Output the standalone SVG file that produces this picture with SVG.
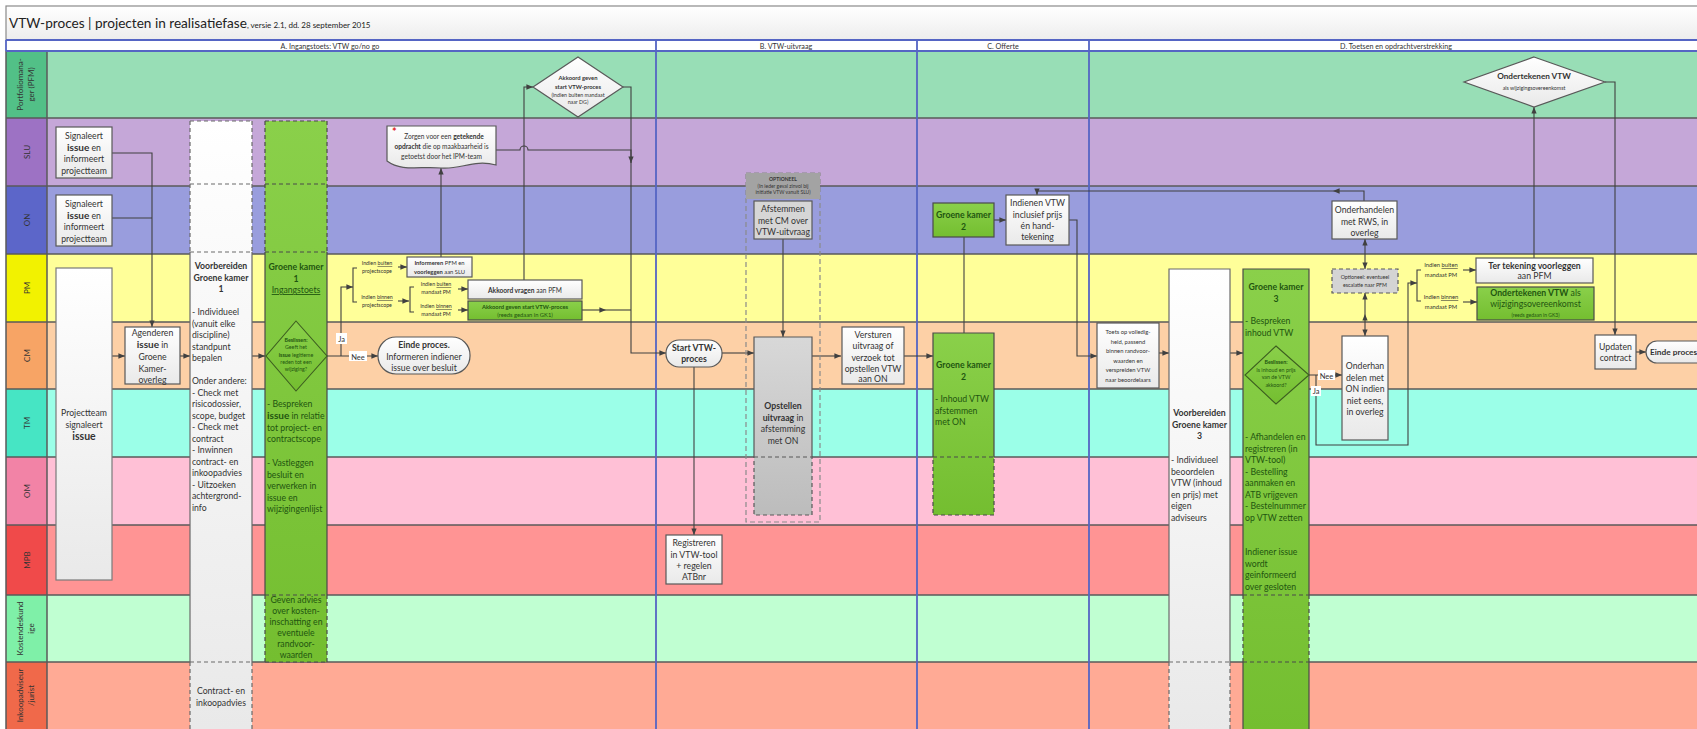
<svg xmlns="http://www.w3.org/2000/svg" width="1697" height="729" viewBox="0 0 1697 729">
<defs>
<linearGradient id="gw" x1="0" y1="0" x2="0" y2="1"><stop offset="0" stop-color="#ffffff"/><stop offset="1" stop-color="#e9e9e9"/></linearGradient>
<linearGradient id="gt" x1="0" y1="0" x2="0" y2="1"><stop offset="0" stop-color="#ffffff"/><stop offset="1" stop-color="#ededed"/></linearGradient>
<linearGradient id="gg" x1="0" y1="0" x2="0" y2="1"><stop offset="0" stop-color="#8ad04a"/><stop offset="1" stop-color="#74be30"/></linearGradient>
<linearGradient id="gr" x1="0" y1="0" x2="0" y2="1"><stop offset="0" stop-color="#d8d8d8"/><stop offset="1" stop-color="#bcbcbc"/></linearGradient>
<marker id="ar" viewBox="0 0 10 10" refX="10" refY="5" markerWidth="6" markerHeight="6" orient="auto-start-reverse"><path d="M0,1 L10,5 L0,9 z" fill="#404040"/></marker>
</defs>
<style>
text{font-family:Lato,"Liberation Sans",sans-serif;fill:#333}
.c{text-anchor:middle;font-size:8.7px}
.l{font-size:8.7px}
.s7{font-size:6.6px}
.s6{font-size:5.8px}
.s5{font-size:5.3px}
.b{font-weight:bold}
.i{font-weight:bold;font-size:10px}
.g{fill:#1f5510}
.lbl{text-anchor:middle;font-size:8px;fill:#333}
.ln{fill:none;stroke:#404040;stroke-width:1.1}
.ar{marker-end:url(#ar)}
.box{fill:url(#gw);stroke:#595959;stroke-width:1.2}
.gbox{fill:url(#gg);stroke:#4a4a4a;stroke-width:1.2}
.sol{fill:none;stroke:#6a6a6a;stroke-width:1.2}
.dsh{fill:none;stroke:#6a6a6a;stroke-width:1.2;stroke-dasharray:4,3}
.lane{stroke:none}
.sep{stroke:#5a5a5a;stroke-width:1.5}
.ph{stroke:#5565c4;stroke-width:1.8;fill:none}
.tag{fill:#ffffff}
</style>

<g id="background">
<rect x="0" y="0" width="1697" height="729" fill="#ffffff"/>
<rect x="6" y="6" width="1697" height="34" fill="url(#gt)" stroke="#8a8a8a" stroke-width="1.2"/>
<text x="9" y="28" style="font-size:13.6px;fill:#222">VTW-proces | projecten in realisatiefase<tspan style="font-size:8px">, versie 2.1, dd. 28 september 2015</tspan></text>
</g>

<g id="lanes">
<rect class="lane" x="47" y="51" width="1650" height="67" fill="#98deb6"/>
<rect class="lane" x="47" y="118" width="1650" height="68" fill="#c5a7d8"/>
<rect class="lane" x="47" y="186" width="1650" height="68" fill="#999ddd"/>
<rect class="lane" x="47" y="254" width="1650" height="68" fill="#ffff99"/>
<rect class="lane" x="47" y="322" width="1650" height="67" fill="#fdd0a6"/>
<rect class="lane" x="47" y="389" width="1650" height="68" fill="#9bffe8"/>
<rect class="lane" x="47" y="457" width="1650" height="68" fill="#ffc0d6"/>
<rect class="lane" x="47" y="525" width="1650" height="70" fill="#ff9494"/>
<rect class="lane" x="47" y="595" width="1650" height="67" fill="#c0ffd2"/>
<rect class="lane" x="47" y="662" width="1650" height="67" fill="#ffaa95"/>
<rect class="lane" x="6" y="51" width="41" height="67" fill="#52c087"/>
<rect class="lane" x="6" y="118" width="41" height="68" fill="#9d72c4"/>
<rect class="lane" x="6" y="186" width="41" height="68" fill="#5c66c9"/>
<rect class="lane" x="6" y="254" width="41" height="68" fill="#f2f200"/>
<rect class="lane" x="6" y="322" width="41" height="67" fill="#f7a465"/>
<rect class="lane" x="6" y="389" width="41" height="68" fill="#46e5c4"/>
<rect class="lane" x="6" y="457" width="41" height="68" fill="#f283a6"/>
<rect class="lane" x="6" y="525" width="41" height="70" fill="#f04a4a"/>
<rect class="lane" x="6" y="595" width="41" height="67" fill="#7ff0a8"/>
<rect class="lane" x="6" y="662" width="41" height="67" fill="#f0694a"/>
<g class="sep">
<line x1="6" y1="118" x2="1697" y2="118"/>
<line x1="6" y1="186" x2="1697" y2="186"/>
<line x1="6" y1="254" x2="1697" y2="254"/>
<line x1="6" y1="322" x2="1697" y2="322"/>
<line x1="6" y1="389" x2="1697" y2="389"/>
<line x1="6" y1="457" x2="1697" y2="457"/>
<line x1="6" y1="525" x2="1697" y2="525"/>
<line x1="6" y1="595" x2="1697" y2="595"/>
<line x1="6" y1="662" x2="1697" y2="662"/>
<line x1="47" y1="51" x2="47" y2="729"/>
<line x1="6" y1="51" x2="6" y2="729"/>
</g>
<text class="lbl" transform="translate(23,84.5) rotate(-90)">Portfolioma­na-</text>
<text class="lbl" transform="translate(34,84.5) rotate(-90)">ger (PFM)</text>
<text class="lbl" transform="translate(29.5,152) rotate(-90)">SLU</text>
<text class="lbl" transform="translate(29.5,220) rotate(-90)">ON</text>
<text class="lbl" transform="translate(29.5,288) rotate(-90)">PM</text>
<text class="lbl" transform="translate(29.5,355.5) rotate(-90)">CM</text>
<text class="lbl" transform="translate(29.5,423) rotate(-90)">TM</text>
<text class="lbl" transform="translate(29.5,491) rotate(-90)">OM</text>
<text class="lbl" transform="translate(29.5,560) rotate(-90)">MPB</text>
<text class="lbl" transform="translate(23,628.5) rotate(-90)">Kostendeskund</text>
<text class="lbl" transform="translate(34,628.5) rotate(-90)">ige</text>
<text class="lbl" transform="translate(23,695.5) rotate(-90)">Inkoopadviseur</text>
<text class="lbl" transform="translate(34,695.5) rotate(-90)">/jurist</text>
</g>

<g id="phases">
<rect x="6" y="40" width="1697" height="11" fill="#ffffff"/>
<path class="ph" d="M6,40 H1697 M6,51 H1697 M6,40 V51 M656,40 V729 M917,40 V729 M1089,40 V729"/>
<text x="330" y="48.5" style="font-size:7.2px;text-anchor:middle">A. Ingangstoets: VTW go/no go</text>
<text x="786" y="48.5" style="font-size:7.2px;text-anchor:middle">B. VTW-uitvraag</text>
<text x="1003" y="48.5" style="font-size:7.2px;text-anchor:middle">C. Offerte</text>
<text x="1396" y="48.5" style="font-size:7.2px;text-anchor:middle">D. Toetsen en opdrachtverstrekking</text>
</g>

<g id="connectors">
<path class="ln ar" d="M112,153 H152 V327"/>
<path class="ln" d="M112,218 H152"/>
<path class="ln ar" d="M112,356 H125"/>
<path class="ln ar" d="M180,356 H190"/>
<path class="ln ar" d="M247,356 H265"/>
<path class="ln ar" d="M327,356 H378"/>
<path class="ln ar" d="M341,356 V287 H353"/>
<path class="ln" d="M357,268 H353 V302 H357"/>
<path class="ln ar" d="M398,267 H407"/>
<path class="ln ar" d="M398,301 H409"/>
<path class="ln" d="M414,287 H410 V312 H414"/>
<path class="ln ar" d="M458,289 H468"/>
<path class="ln ar" d="M458,310 H468"/>
<path class="ln ar" d="M441,257 V168"/>
<path class="ln ar" d="M524,280 V87 H533"/>
<path class="ln ar" d="M623,87 H631 V353 H666"/>
<path class="ln ar" d="M496,150 H520 A4,4 0 0 1 528,150 H631 V163"/>
<path class="ln ar" d="M582,310 H606"/>
<path class="ln" d="M606,310 H631"/>
<path class="ln ar" d="M722,353 H754"/>
<path class="ln ar" d="M783,239 V337"/>
<path class="ln ar" d="M694,367 V535"/>
<path class="ln ar" d="M812,356 H841"/>
<path class="ln ar" d="M904,356 H933"/>
<path class="ln" d="M964,237 V333"/>
<path class="ln ar" d="M994,220 H1006"/>
<path class="ln ar" d="M1069,220 H1077 V356 H1097"/>
<path class="ln ar" d="M1159,353 H1169"/>
<path class="ln ar" d="M1230,353 H1243"/>
<path class="ln ar" d="M1309,375 H1342"/>
<path class="ln ar" d="M1316,375 V445 H1408 V283 H1417"/>
<path class="ln" d="M1421,270 H1417 V301 H1421"/>
<path class="ln ar" d="M1463,270 H1476"/>
<path class="ln ar" d="M1463,302 H1477"/>
<path class="ln ar" d="M1534,258 V107"/>
<path class="ln ar" d="M1605,82 H1615 V335"/>
<path class="ln ar" d="M1636,352 H1646"/>
<path class="ln ar" d="M1365,314 V336" style="marker-start:url(#ar)"/>
<path class="ln" d="M1365,293 V314" style="marker-start:url(#ar)"/>
<path class="ln ar" d="M1365,254 V269"/>
<path class="ln" d="M1365,254 V239" style="marker-end:url(#ar)"/>
<path class="ln ar" d="M1364,201 V191 H1333"/>
<path class="ln ar" d="M1333,191 H1037 V195"/>
<rect class="tag" x="336" y="333" width="11" height="11"/>
<text x="341.5" y="342" style="font-size:7.5px;text-anchor:middle">Ja</text>
<rect class="tag" x="349" y="351" width="18" height="10"/>
<text x="358" y="359.5" style="font-size:7.5px;text-anchor:middle">Nee</text>
<rect class="tag" x="1318" y="370" width="17" height="10"/>
<text x="1326.5" y="378.5" style="font-size:7.5px;text-anchor:middle">Nee</text>
<rect class="tag" x="1311" y="386" width="10" height="10"/>
<text x="1316" y="394" style="font-size:7.5px;text-anchor:middle">Ja</text>
</g>

<g id="n-signaleert-slu">
<rect class="box" x="56" y="127" width="56" height="51"/>
<text class="c" x="84" y="139">Signaleert</text>
<text class="c" x="84" y="150.5"><tspan class="i">issue</tspan> en</text>
<text class="c" x="84" y="162">informeert</text>
<text class="c" x="84" y="173.5">projectteam</text>
</g>
<g id="n-signaleert-on">
<rect class="box" x="56" y="195" width="56" height="51"/>
<text class="c" x="84" y="207">Signaleert</text>
<text class="c" x="84" y="218.5"><tspan class="i">issue</tspan> en</text>
<text class="c" x="84" y="230">informeert</text>
<text class="c" x="84" y="241.5">projectteam</text>
</g>
<g id="n-projectteam">
<rect class="box" x="56" y="268" width="56" height="312" style="stroke:#7a7a7a"/>
<text class="c" x="84" y="416">Projectteam</text>
<text class="c" x="84" y="427.5">signaleert</text>
<text class="c b" x="84" y="440" style="font-size:10.5px">issue</text>
</g>
<g id="n-agenderen">
<rect class="box" x="125" y="327" width="55" height="57"/>
<text class="c" x="152.5" y="335.5">Agenderen</text>
<text class="c" x="152.5" y="348"><tspan class="i">issue</tspan> in</text>
<text class="c" x="152.5" y="360">Groene</text>
<text class="c" x="152.5" y="372">Kamer-</text>
<text class="c" x="152.5" y="383">overleg</text>
</g>
<g id="n-voorbereiden-gk1">
<rect x="190" y="121" width="62" height="608" fill="url(#gw)"/>
<path class="sol" d="M190,252 V662 M252,252 V662"/>
<path class="dsh" d="M190,121 H252 M190,121 V252 M252,121 V252 M190,184 H252 M190,252 H252 M190,662 H252 M190,662 V729 M252,662 V729"/>
<text class="c b" x="221" y="269">Voorbereiden</text>
<text class="c b" x="221" y="280.5">Groene kamer</text>
<text class="c b" x="221" y="292">1</text>
<text class="l" x="192" y="315">- Individueel</text>
<text class="l" x="192" y="326.5">(vanuit elke</text>
<text class="l" x="192" y="338">discipline)</text>
<text class="l" x="192" y="349.5">standpunt</text>
<text class="l" x="192" y="361">bepalen</text>
<text class="l" x="192" y="384">Onder andere:</text>
<text class="l" x="192" y="395.5">- Check met</text>
<text class="l" x="192" y="407">risicodossier,</text>
<text class="l" x="192" y="418.5">scope, budget</text>
<text class="l" x="192" y="430">- Check met</text>
<text class="l" x="192" y="441.5">contract</text>
<text class="l" x="192" y="453">- Inwinnen</text>
<text class="l" x="192" y="464.5">contract- en</text>
<text class="l" x="192" y="476">inkoopadvies</text>
<text class="l" x="192" y="487.5">- Uitzoeken</text>
<text class="l" x="192" y="499">achtergrond-</text>
<text class="l" x="192" y="510.5">info</text>
<text class="c" x="221" y="694">Contract- en</text>
<text class="c" x="221" y="705.5">inkoopadvies</text>
</g>
<g id="n-groene-kamer-1">
<rect x="265" y="121" width="62" height="541" fill="url(#gg)"/>
<path class="sol" d="M265,252 V595 M327,252 V595" style="stroke:#4a4a4a"/>
<path class="dsh" d="M265,121 H327 M265,121 V252 M327,121 V252 M265,184 H327 M265,252 H327 M265,595 H327 M265,595 V662 M327,595 V662 M265,662 H327" style="stroke:#4a4a4a"/>
<text class="c b g" x="296" y="270">Groene kamer</text>
<text class="c b g" x="296" y="281.5">1</text>
<text class="c g" x="296" y="293" style="text-decoration:underline">Ingangstoets</text>
<polygon points="296,321 327,356 296,391 266,356" fill="url(#gg)" stroke="#3d5e20" stroke-width="1.1"/>
<text class="c b g s5" x="296" y="342">Beslissen:</text>
<text class="c g s5" x="296" y="349">Geeft het</text>
<text class="c g s5" x="296" y="356.5"><tspan class="b">issue</tspan> legitieme</text>
<text class="c g s5" x="296" y="363.5">reden tot een</text>
<text class="c g s5" x="296" y="370.5">wijziging?</text>
<text class="l g" x="267" y="407">- Bespreken</text>
<text class="l g" x="267" y="419"><tspan class="i">issue</tspan> in relatie</text>
<text class="l g" x="267" y="430.5">tot project- en</text>
<text class="l g" x="267" y="442">contractscope</text>
<text class="l g" x="267" y="466">- Vastleggen</text>
<text class="l g" x="267" y="477.5">besluit en</text>
<text class="l g" x="267" y="489">verwerken in</text>
<text class="l g" x="267" y="500.5">issue en</text>
<text class="l g" x="267" y="512">wijzigingenlijst</text>
<text class="c g" x="296" y="603">Geven advies</text>
<text class="c g" x="296" y="614">over kosten-</text>
<text class="c g" x="296" y="625">inschatting en</text>
<text class="c g" x="296" y="636">eventuele</text>
<text class="c g" x="296" y="647">randvoor-</text>
<text class="c g" x="296" y="658">waarden</text>
</g>
<g id="n-zorgen">
<path d="M387,126 H496 V165 C474,159 460,170 441,168 C420,166 402,172 387,161 Z" fill="url(#gw)" stroke="#595959" stroke-width="1.2"/>
<text x="392" y="136" style="font-size:11px;fill:#e02020;font-weight:bold">*</text>
<text class="c s7" x="444" y="139">Zorgen voor een <tspan class="b">getekende</tspan></text>
<text class="c s7" x="441.5" y="149"><tspan class="b">opdracht</tspan> die op maakbaarheid is</text>
<text class="c s7" x="441.5" y="158.5">getoetst door het IPM-team</text>
</g>
<g id="n-akkoord-geven-pfm">
<polygon points="578,57 623,87 578,117 533,87" fill="url(#gw)" stroke="#595959" stroke-width="1.2"/>
<text class="c b s6" x="578" y="80">Akkoord geven</text>
<text class="c b s6" x="578" y="88.5">start VTW-proces</text>
<text class="c s5" x="578" y="96.5">(indien buiten mandaat</text>
<text class="c s5" x="578" y="104">naar DG)</text>
</g>
<g id="n-labels-scope">
<text class="c s5" x="377" y="265">Indien <tspan style="text-decoration:underline">buiten</tspan></text>
<text class="c s5" x="377" y="272.5">projectscope</text>
<text class="c s5" x="377" y="299">Indien <tspan style="text-decoration:underline">binnen</tspan></text>
<text class="c s5" x="377" y="306.5">projectscope</text>
<text class="c s5" x="436" y="286">Indien <tspan style="text-decoration:underline">buiten</tspan></text>
<text class="c s5" x="436" y="293.5">mandaat PM</text>
<text class="c s5" x="436" y="308">Indien <tspan style="text-decoration:underline">binnen</tspan></text>
<text class="c s5" x="436" y="315.5">mandaat PM</text>
</g>
<g id="n-informeren">
<rect class="box" x="407" y="257" width="65" height="20"/>
<text class="c s6" x="439.5" y="265"><tspan class="b">Informeren</tspan> PFM en</text>
<text class="c s6" x="439.5" y="273.5"><tspan class="b">voorleggen</tspan> aan SLU</text>
</g>
<g id="n-akkoord-vragen">
<rect class="box" x="468" y="280" width="114" height="19"/>
<text class="c s7" x="525" y="292.5"><tspan class="b">Akkoord vragen</tspan> aan PFM</text>
</g>
<g id="n-akkoord-gk1">
<rect class="gbox" x="468" y="301" width="114" height="19"/>
<text class="c b g s6" x="525" y="308.5">Akkoord geven start VTW-proces</text>
<text class="c g s6" x="525" y="316.5">(reeds gedaan in GK1)</text>
</g>
<g id="n-einde-1">
<rect x="378" y="337" width="92" height="37" rx="18" fill="url(#gw)" stroke="#595959" stroke-width="1.2"/>
<text class="c b" x="424" y="348">Einde proces.</text>
<text class="c" x="424" y="359.5">Informeren indiener</text>
<text class="c" x="424" y="370.5">issue over besluit</text>
</g>
<g id="n-start-vtw">
<rect x="666" y="340" width="56" height="27" rx="13" fill="url(#gw)" stroke="#595959" stroke-width="1.2"/>
<text class="c b" x="694" y="351">Start VTW-</text>
<text class="c b" x="694" y="362">proces</text>
</g>
<g id="n-optioneel">
<rect x="746" y="173" width="74" height="349" fill="none" stroke="#8a8a8a" stroke-width="1.2" stroke-dasharray="5,3"/>
<rect x="746" y="173" width="74" height="26" fill="#a3a3a3"/>
<text class="c b" x="783" y="181" style="font-size:5px">OPTIONEEL</text>
<text class="c" x="783" y="187.5" style="font-size:5px">(In ieder geval zinvol bij</text>
<text class="c" x="783" y="194" style="font-size:5px">initiatie VTW vanuit SLU)</text>
</g>
<g id="n-afstemmen">
<rect x="754" y="201" width="58" height="38" fill="#d6d6d6" stroke="#595959" stroke-width="1.2"/>
<text class="c" x="783" y="212">Afstemmen</text>
<text class="c" x="783" y="223.5">met CM over</text>
<text class="c" x="783" y="235">VTW-uitvraag</text>
</g>
<g id="n-opstellen">
<rect x="754" y="337" width="58" height="178" fill="url(#gr)"/>
<path class="sol" d="M754,457 V337 H812 V457" style="stroke:#595959"/>
<path class="dsh" d="M754,457 H812 V515 H754 Z" style="stroke:#595959"/>
<text class="c b" x="783" y="409">Opstellen</text>
<text class="c" x="783" y="420.5"><tspan class="b">uitvraag</tspan> in</text>
<text class="c" x="783" y="432">afstemming</text>
<text class="c" x="783" y="443.5">met ON</text>
</g>
<g id="n-registreren">
<rect class="box" x="666" y="535" width="56" height="49"/>
<text class="c" x="694" y="546">Registreren</text>
<text class="c" x="694" y="557.5">in VTW-tool</text>
<text class="c" x="694" y="569">+ regelen</text>
<text class="c" x="694" y="580">ATBnr</text>
</g>
<g id="n-versturen">
<rect class="box" x="842" y="327" width="62" height="57"/>
<text class="c" x="873" y="337.5">Versturen</text>
<text class="c" x="873" y="349">uitvraag of</text>
<text class="c" x="873" y="360.5">verzoek tot</text>
<text class="c" x="873" y="372">opstellen VTW</text>
<text class="c" x="873" y="382">aan ON</text>
</g>
<g id="n-gk2-on">
<rect class="gbox" x="933" y="203" width="61" height="34"/>
<text class="c b g" x="963.5" y="218">Groene kamer</text>
<text class="c b g" x="963.5" y="229.5">2</text>
</g>
<g id="n-gk2-cm">
<rect x="933" y="333" width="61" height="182" fill="url(#gg)"/>
<path class="sol" d="M933,457 V333 H994 V457" style="stroke:#4a4a4a"/>
<path class="dsh" d="M933,457 H994 V515 H933 Z" style="stroke:#4a4a4a"/>
<text class="c b g" x="963.5" y="368">Groene kamer</text>
<text class="c b g" x="963.5" y="379.5">2</text>
<text class="l g" x="935" y="402">- Inhoud VTW</text>
<text class="l g" x="935" y="413.5">afstemmen</text>
<text class="l g" x="935" y="425">met ON</text>
</g>
<g id="n-indienen">
<rect class="box" x="1006" y="195" width="63" height="50"/>
<text class="c" x="1037.5" y="206">Indienen VTW</text>
<text class="c" x="1037.5" y="217.5">inclusief prijs</text>
<text class="c" x="1037.5" y="229">én hand-</text>
<text class="c" x="1037.5" y="240">tekening</text>
</g>
<g id="n-toets">
<rect class="box" x="1097" y="323" width="62" height="65"/>
<text class="c s6" x="1128" y="334">Toets op volledig-</text>
<text class="c s6" x="1128" y="343.5">heid, passend</text>
<text class="c s6" x="1128" y="353">binnen randvoor-</text>
<text class="c s6" x="1128" y="362.5">waarden en</text>
<text class="c s6" x="1128" y="372">verspreiden VTW</text>
<text class="c s6" x="1128" y="381.5">naar beoordelaars</text>
</g>
<g id="n-voorbereiden-gk3">
<rect x="1169" y="269" width="61" height="460" fill="url(#gw)"/>
<path class="sol" d="M1169,662 V269 H1230 V662"/>
<path class="dsh" d="M1169,662 H1230 M1169,662 V729 M1230,662 V729"/>
<text class="c b" x="1199.5" y="416">Voorbereiden</text>
<text class="c b" x="1199.5" y="427.5">Groene kamer</text>
<text class="c b" x="1199.5" y="439">3</text>
<text class="l" x="1171" y="463">- Individueel</text>
<text class="l" x="1171" y="474.5">beoordelen</text>
<text class="l" x="1171" y="486">VTW (inhoud</text>
<text class="l" x="1171" y="497.5">en prijs) met</text>
<text class="l" x="1171" y="509">eigen</text>
<text class="l" x="1171" y="520.5">adviseurs</text>
</g>
<g id="n-groene-kamer-3">
<rect x="1243" y="269" width="66" height="460" fill="url(#gg)"/>
<path class="sol" d="M1243,595 V269 H1309 V595 M1243,662 V729 M1309,662 V729" style="stroke:#4a4a4a"/>
<path class="dsh" d="M1243,595 H1309 M1243,595 V662 M1309,595 V662 M1243,662 H1309" style="stroke:#4a4a4a"/>
<text class="c b g" x="1276" y="290">Groene kamer</text>
<text class="c b g" x="1276" y="301.5">3</text>
<text class="l g" x="1245" y="324">- Bespreken</text>
<text class="l g" x="1245" y="335.5">inhoud VTW</text>
<polygon points="1276,346 1309,375 1276,404 1245,375" fill="url(#gg)" stroke="#3d5e20" stroke-width="1.1"/>
<text class="c b g s5" x="1276" y="364">Beslissen:</text>
<text class="c g s5" x="1276" y="371.5">Is inhoud en prijs</text>
<text class="c g s5" x="1276" y="379">van de VTW</text>
<text class="c g s5" x="1276" y="386.5">akkoord?</text>
<text class="l g" x="1245" y="440">- Afhandelen en</text>
<text class="l g" x="1245" y="451.5">registreren (in</text>
<text class="l g" x="1245" y="463">VTW-tool)</text>
<text class="l g" x="1245" y="474.5">- Bestelling</text>
<text class="l g" x="1245" y="486">aanmaken en</text>
<text class="l g" x="1245" y="497.5">ATB vrijgeven</text>
<text class="l g" x="1245" y="509">- Bestelnummer</text>
<text class="l g" x="1245" y="520.5">op VTW zetten</text>
<text class="l g" x="1245" y="555">Indiener issue</text>
<text class="l g" x="1245" y="566.5">wordt</text>
<text class="l g" x="1245" y="578">geinformeerd</text>
<text class="l g" x="1245" y="589.5">over gesloten</text>
</g>
<g id="n-onderhandelen-rws">
<rect class="box" x="1332" y="201" width="65" height="38"/>
<text class="c" x="1364.5" y="213">Onderhandelen</text>
<text class="c" x="1364.5" y="224.5">met RWS, in</text>
<text class="c" x="1364.5" y="235.5">overleg</text>
</g>
<g id="n-escalatie">
<rect x="1332" y="269" width="66" height="24" fill="#d4d4d4" stroke="#595959" stroke-width="1.2" stroke-dasharray="4,3"/>
<text class="c s5" x="1365" y="279">Optioneel: eventueel</text>
<text class="c s5" x="1365" y="287">escalatie naar PFM</text>
</g>
<g id="n-onderhandelen-on">
<rect class="box" x="1342" y="336" width="46" height="104"/>
<text class="c" x="1365" y="369">Onderhan</text>
<text class="c" x="1365" y="380.5">delen met</text>
<text class="c" x="1365" y="392">ON indien</text>
<text class="c" x="1365" y="403.5">niet eens,</text>
<text class="c" x="1365" y="415">in overleg</text>
</g>
<g id="n-labels-mandaat">
<text class="c s6" x="1441" y="267">Indien <tspan style="text-decoration:underline">buiten</tspan></text>
<text class="c s6" x="1441" y="276.5">mandaat PM</text>
<text class="c s6" x="1441" y="299">Indien <tspan style="text-decoration:underline">binnen</tspan></text>
<text class="c s6" x="1441" y="308.5">mandaat PM</text>
</g>
<g id="n-ter-tekening">
<rect class="box" x="1476" y="258" width="117" height="25"/>
<text class="c b" x="1534.5" y="268.5">Ter tekening voorleggen</text>
<text class="c" x="1534.5" y="279">aan PFM</text>
</g>
<g id="n-ondertekenen-gk3">
<rect class="gbox" x="1477" y="287" width="117" height="33"/>
<text class="c g" x="1535.5" y="296"><tspan class="b">Ondertekenen VTW</tspan> als</text>
<text class="c g" x="1535.5" y="306.5">wijzigingsovereenkomst</text>
<text class="c g" x="1535.5" y="316.5" style="font-size:5px">(reeds gedaan in GK3)</text>
</g>
<g id="n-ondertekenen-pfm">
<polygon points="1534,57 1605,82 1534,107 1464,82" fill="url(#gw)" stroke="#595959" stroke-width="1.2"/>
<text class="c b" x="1534" y="79" style="font-size:8.2px">Ondertekenen VTW</text>
<text class="c s5" x="1534" y="89.5">als wijzigingsovereenkomst</text>
</g>
<g id="n-updaten">
<rect class="box" x="1595" y="335" width="41" height="34"/>
<text class="c" x="1615.5" y="349.5">Updaten</text>
<text class="c" x="1615.5" y="361">contract</text>
</g>
<g id="n-einde-2">
<rect x="1646" y="341" width="70" height="22" rx="11" fill="url(#gw)" stroke="#595959" stroke-width="1.2"/>
<text class="b" x="1650" y="355" style="font-size:8.3px">Einde proces</text>
</g>
</svg>
